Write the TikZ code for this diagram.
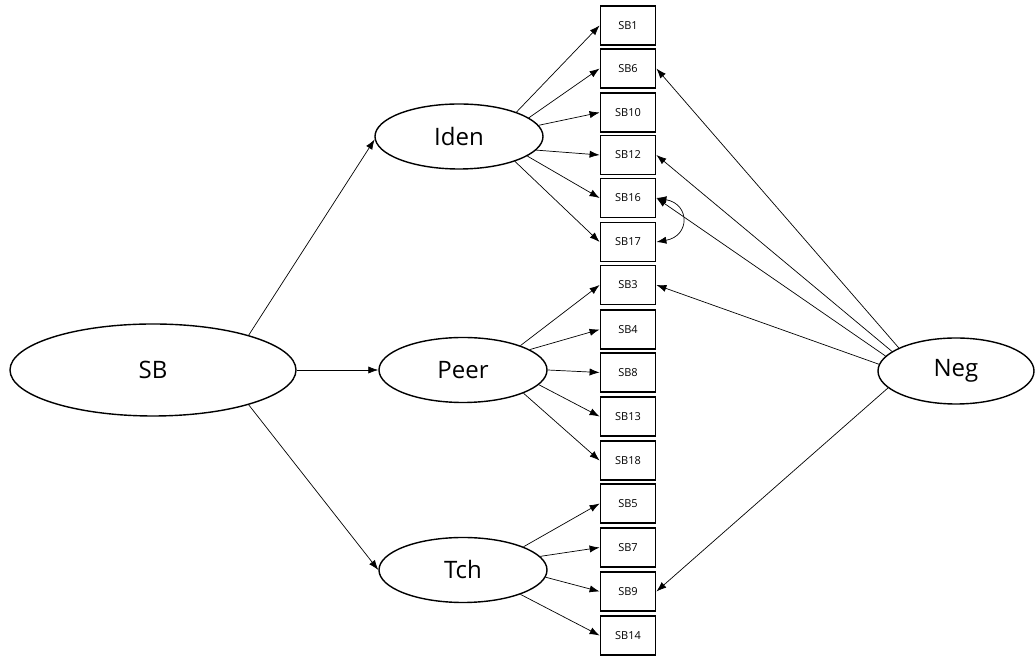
\documentclass[tikz,border=0pt]{standalone}
\usepackage{fontspec}
\setmainfont{Open Sans}
\usetikzlibrary{shapes.geometric,arrows.meta}

\begin{document}
\begin{tikzpicture}[x=0.5pt,y=-0.5pt,-]
            \tikzstyle{latent}=[ellipse,draw=black,line width=0.7pt,fill=white,inner sep=0pt,font=\fontsize{12}{14}\selectfont]
            \tikzstyle{item}=[rectangle,draw=black,line width=0.9pt,fill=white,minimum width=27.5pt,minimum height=19.5pt,inner sep=0pt,font=\fontsize{5.5}{6}\selectfont]
            \tikzstyle{load}=[-{Latex[length=5pt,width=3.6pt]},line width=0.35pt]
            \useasboundingbox (0,0) rectangle (1035,656);

            \node[latent,minimum width=143pt,minimum height=46pt] (SB) at (153,370) {SB};
            \node[latent,minimum width=84pt,minimum height=32.5pt] (Iden) at (459,136.5) {Iden};
            \node[latent,minimum width=84pt,minimum height=32.5pt] (Peer) at (463,370) {Peer};
            \node[latent,minimum width=84pt,minimum height=32.5pt] (Tch) at (463,570) {Tch};
            \node[latent,minimum width=78pt,minimum height=33pt] (Neg) at (956,371) {Neg};

            \foreach \num/\y in {1/25.5, 6/68.5, 10/112.5, 12/155, 16/198, 17/242, 3/285, 4/329.5, 8/372.5, 13/416.5, 18/460.5, 5/503.5, 7/547.5, 9/591.5, 14/635.5}
                \node[item] (SB\num) at (628,\y) {SB\num};

            \draw[load] (SB.20) -- (Iden.182);
            \draw[load] (SB.east) -- (Peer.west);
            \draw[load] (SB.-20) -- (Tch.180);

            \foreach \num/\a in {1/23, 6/15, 10/8, 12/-10, 16/-16, 17/-24}
                \draw[load] (Iden.\a) -- (SB\num.west);
            \foreach \num/\a in {3/23, 4/17, 8/0, 13/-11, 18/-21}
                \draw[load] (Peer.\a) -- (SB\num.west);
            \foreach \num/\a in {5/21, 7/10, 9/-5, 14/-23}
                \draw[load] (Tch.\a) -- (SB\num.west);
            \foreach \num/\a in {6/158, 12/163, 16/168, 3/175, 9/194}
                \draw[load] (Neg.\a) -- (SB\num.east);

            \draw[load,{Latex[length=5pt,width=3.6pt]}-{Latex[length=5pt,width=3.6pt]}] (SB16.east) to[out=-10,in=10,looseness=2] (SB17.east);
        \end{tikzpicture}
\end{document}
